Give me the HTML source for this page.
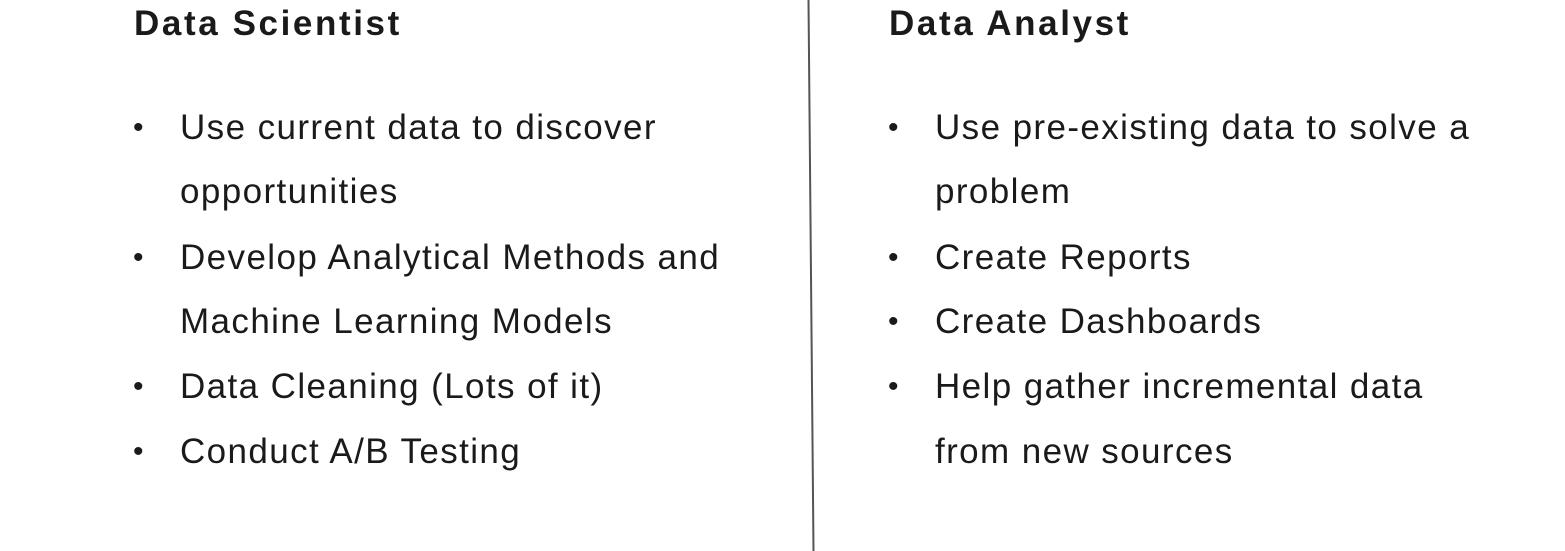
<!DOCTYPE html>
<html><head><meta charset="utf-8"><style>
html,body{margin:0;padding:0;background:#fff;}
body{width:1565px;height:551px;position:relative;overflow:hidden;font-family:"Liberation Sans",sans-serif;color:#1a1a1a;}
.h{position:absolute;font-weight:bold;font-size:35px;line-height:44px;letter-spacing:2.6px;}
.l{position:absolute;font-size:35px;line-height:64px;height:64px;white-space:nowrap;letter-spacing:1.4px;}
.b{position:absolute;font-size:30px;line-height:64px;height:64px;}
</style></head><body>
<svg style="position:absolute;left:0;top:0" width="1565" height="551"><line x1="808.5" y1="0" x2="813.5" y2="551" stroke="#555" stroke-width="2"/></svg>
<div class="h" style="left:134px;top:2px">Data Scientist</div>
<div class="h" style="left:889px;top:2px">Data Analyst</div>

<div class="b" style="left:133px;top:96px">•</div>
<div class="l" style="left:180px;top:96px">Use current data to discover</div>
<div class="l" style="left:180px;top:160px">opportunities</div>
<div class="b" style="left:133px;top:226px">•</div>
<div class="l" style="left:180px;top:226px">Develop Analytical Methods and</div>
<div class="l" style="left:180px;top:290px">Machine Learning Models</div>
<div class="b" style="left:133px;top:355px">•</div>
<div class="l" style="left:180px;top:355px">Data Cleaning (Lots of it)</div>
<div class="b" style="left:133px;top:420px">•</div>
<div class="l" style="left:180px;top:420px">Conduct A/B Testing</div>

<div class="b" style="left:888px;top:96px">•</div>
<div class="l" style="left:935px;top:96px">Use pre-existing data to solve a</div>
<div class="l" style="left:935px;top:160px">problem</div>
<div class="b" style="left:888px;top:226px">•</div>
<div class="l" style="left:935px;top:226px">Create Reports</div>
<div class="b" style="left:888px;top:290px">•</div>
<div class="l" style="left:935px;top:290px">Create Dashboards</div>
<div class="b" style="left:888px;top:355px">•</div>
<div class="l" style="left:935px;top:355px">Help gather incremental data</div>
<div class="l" style="left:935px;top:420px">from new sources</div>
</body></html>
